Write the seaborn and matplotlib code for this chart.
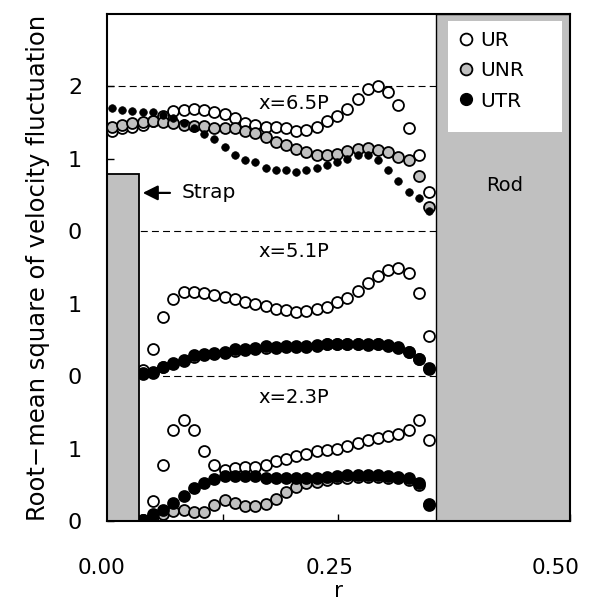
import numpy as np
import pandas as pd
import seaborn as sns
import matplotlib.pyplot as plt
from matplotlib.patches import Rectangle
from matplotlib.lines import Line2D
from matplotlib.transforms import ScaledTranslation

# radial positions of the measuring points
r = [0.0054, 0.0165, 0.0275, 0.0386, 0.0496, 0.0607, 0.0717, 0.0828,
     0.0938, 0.1049, 0.1159, 0.1270, 0.1380, 0.1491, 0.1601, 0.1712,
     0.1822, 0.1933, 0.2043, 0.2154, 0.2264, 0.2375, 0.2485, 0.2596,
     0.2706, 0.2817, 0.2927, 0.3038, 0.3148, 0.3259, 0.3369, 0.3480]

# x = 6.5P (all 32 points)
ur_65 = [1.39, 1.42, 1.44, 1.47, 1.52, 1.59, 1.66, 1.67, 1.69, 1.67, 1.65, 1.62, 1.56, 1.50, 1.47, 1.44,
         1.44, 1.42, 1.38, 1.40, 1.44, 1.52, 1.59, 1.69, 1.82, 1.97, 2.00, 1.92, 1.74, 1.42, 1.05, 0.54]
unr_65 = [1.44, 1.47, 1.50, 1.51, 1.52, 1.51, 1.49, 1.47, 1.45, 1.45, 1.43, 1.42, 1.42, 1.39, 1.36, 1.30,
          1.23, 1.19, 1.14, 1.09, 1.06, 1.06, 1.07, 1.11, 1.13, 1.15, 1.12, 1.09, 1.03, 0.99, 0.77, 0.34]
utr_65 = [1.70, 1.67, 1.66, 1.64, 1.64, 1.61, 1.56, 1.50, 1.43, 1.35, 1.27, 1.16, 1.06, 0.99, 0.95, 0.87,
          0.85, 0.84, 0.82, 0.85, 0.88, 0.92, 0.96, 1.00, 1.05, 1.06, 0.98, 0.85, 0.69, 0.54, 0.46, 0.28]

# x = 5.1P (points from r[3])
ur_51 = [0.08, 0.37, 0.81, 1.07, 1.16, 1.16, 1.15, 1.12, 1.09, 1.06, 1.02, 0.99, 0.97, 0.92, 0.91,
         0.89, 0.90, 0.92, 0.95, 1.02, 1.08, 1.18, 1.28, 1.38, 1.46, 1.49, 1.42, 1.15, 0.55]
unr_51 = [0.03, 0.05, 0.12, 0.17, 0.21, 0.27, 0.29, 0.31, 0.32, 0.35, 0.36, 0.37, 0.39, 0.39, 0.40,
          0.40, 0.40, 0.42, 0.44, 0.44, 0.44, 0.44, 0.43, 0.44, 0.42, 0.39, 0.33, 0.23, 0.10]
utr_51 = [0.04, 0.06, 0.13, 0.18, 0.22, 0.29, 0.30, 0.32, 0.34, 0.37, 0.38, 0.39, 0.41, 0.40, 0.41,
          0.41, 0.41, 0.43, 0.45, 0.45, 0.45, 0.45, 0.44, 0.45, 0.43, 0.40, 0.34, 0.24, 0.11]

# x = 2.3P (points from r[3])
ur_23 = [0.02, 0.28, 0.77, 1.25, 1.39, 1.25, 0.97, 0.77, 0.71, 0.73, 0.75, 0.75, 0.77, 0.83, 0.86,
         0.90, 0.92, 0.96, 0.98, 0.99, 1.03, 1.07, 1.12, 1.14, 1.18, 1.20, 1.26, 1.39, 1.12]
unr_23 = [0.01, 0.07, 0.10, 0.14, 0.15, 0.13, 0.13, 0.22, 0.29, 0.25, 0.20, 0.20, 0.23, 0.31, 0.40,
          0.47, 0.52, 0.54, 0.57, 0.59, 0.60, 0.61, 0.61, 0.61, 0.60, 0.59, 0.57, 0.50, 0.22]
utr_23 = [0.01, 0.10, 0.15, 0.25, 0.34, 0.45, 0.52, 0.58, 0.62, 0.62, 0.62, 0.62, 0.60, 0.59, 0.59,
          0.59, 0.59, 0.60, 0.61, 0.62, 0.63, 0.63, 0.63, 0.63, 0.62, 0.61, 0.59, 0.52, 0.24]

panels = ["x=2.3P", "x=5.1P", "x=6.5P"]
offsets = [0, 2, 4]
ytick_labels = ["0", "1", "0", "1", "0", "1", "2"]
xtick_labels = ["0.00", "0.25", "0.50"]
xtick_pos = [0.0, 0.25, 0.5]

sns.set_style("ticks")
plt.rcParams['font.family'] = ['DejaVu Sans']
plt.rcParams['lines.scale_dashes'] = False
plt.rcParams['text.color'] = 'black'
plt.rcParams['axes.labelcolor'] = 'black'
plt.rcParams['xtick.color'] = 'black'
plt.rcParams['ytick.color'] = 'black'

fig = plt.figure(figsize=(5.89, 6.06), dpi=100)
ax = fig.add_axes([0.1817, 0.1403, 0.786, 0.8366])

gray = "#c0c0c0"
styles = {
    "UR": dict(facecolor="white", edgecolor="black"),
    "UNR": dict(facecolor=gray, edgecolor="black"),
    "UTR": dict(facecolor="black", edgecolor="black"),
}

data = {
    "x=2.3P": {"UR": ur_23, "UNR": unr_23, "UTR": utr_23},
    "x=5.1P": {"UR": ur_51, "UNR": unr_51, "UTR": utr_51},
    "x=6.5P": {"UR": ur_65, "UNR": unr_65, "UTR": utr_65},
}

rows = []
for p, off in zip(panels, offsets):
    for s in ["UR", "UNR", "UTR"]:
        vals = data[p][s]
        rr = r[len(r) - len(vals):]
        for x, v in zip(rr, vals):
            rows.append({"r": x, "y": v + off, "panel": p, "series": s})
df = pd.DataFrame(rows)

# dashed separators
for off in [2, 4, 6]:
    ax.axhline(off, color="black", lw=0.8, ls=(0, (5, 3)), zorder=1)

for p in panels:
    for s in ["UR", "UNR", "UTR"]:
        sub = df[(df["panel"] == p) & (df["series"] == s)]
        size = 62
        lw = 1.3
        if p == "x=6.5P" and s == "UTR":
            size = 30
            lw = 0.5
        sns.scatterplot(data=sub, x="r", y="y", ax=ax, marker="o", s=size,
                        linewidth=lw, zorder=3, legend=False, **styles[s])

# strap and rod
ax.add_patch(Rectangle((0, 0), 0.0346, 4.79, facecolor=gray, edgecolor="black", lw=1.3, zorder=4))
ax.add_patch(Rectangle((0.355, 0), 0.145, 7, facecolor=gray, edgecolor="black", lw=1.0, zorder=4))

ax.annotate("", xy=(0.0356, 4.53), xytext=(0.071, 4.53),
            arrowprops=dict(arrowstyle="-|>,head_length=0.9,head_width=0.45", color="black", lw=1.6),
            zorder=5)
ax.text(0.081, 4.53, "Strap", fontsize=14.5, va="center", ha="left", zorder=5)
ax.text(0.429, 4.63, "Rod", fontsize=14, va="center", ha="center", zorder=5)

label_y = [1.70, 3.72, 5.77]
for p, yy in zip(panels, label_y):
    ax.text(0.202, yy, p, fontsize=14, ha="center", va="center", zorder=5)

ax.set_xlim(0, 0.5)
ax.set_ylim(0, 7)
ax.set_yticks(range(7))
ax.set_yticklabels(ytick_labels)
ax.set_xticks([0, 0.125, 0.25, 0.375, 0.5])
ax.set_xticklabels([])
ax.tick_params(axis="both", direction="in", length=5, width=1, labelsize=16)
ax.tick_params(axis="y", pad=18)

for x, lab, dx in zip(xtick_pos, xtick_labels, [-6, -9, -14]):
    t = ax.text(x, -0.074, lab, transform=ax.get_xaxis_transform(), ha="center", va="top",
                fontsize=15.5, clip_on=False)
    t.set_transform(t.get_transform() + ScaledTranslation(dx / 100, 0, fig.dpi_scale_trans))

ax.set_xlabel("r", fontsize=15.5, labelpad=40)
ax.set_ylabel("Root\u2212mean square of velocity fluctuation", fontsize=17.5, labelpad=13)

for sp in ax.spines.values():
    sp.set_linewidth(1.5)
    sp.set_color("black")
    sp.set_zorder(6)

# white legend panel inside the rod
ax.add_patch(Rectangle((0.368, 5.37), 0.123, 1.54, facecolor="white", edgecolor="none", zorder=5))
handles = [Line2D([], [], ls="", marker="o", markersize=8.5, markerfacecolor="white", markeredgecolor="black", markeredgewidth=1.3),
           Line2D([], [], ls="", marker="o", markersize=8.5, markerfacecolor=gray, markeredgecolor="black", markeredgewidth=1.3),
           Line2D([], [], ls="", marker="o", markersize=8.5, markerfacecolor="black", markeredgecolor="black")]
leg = ax.legend(handles, ["UR", "UNR", "UTR"], loc="upper left", bbox_to_anchor=(0.374, 6.76),
                bbox_transform=ax.transData, frameon=False,
                fontsize=14.5, handletextpad=0.05, handlelength=1.3, labelspacing=0.55,
                borderpad=0, borderaxespad=0)
leg.set_zorder(7)

fig.savefig("out.png", dpi=100)
